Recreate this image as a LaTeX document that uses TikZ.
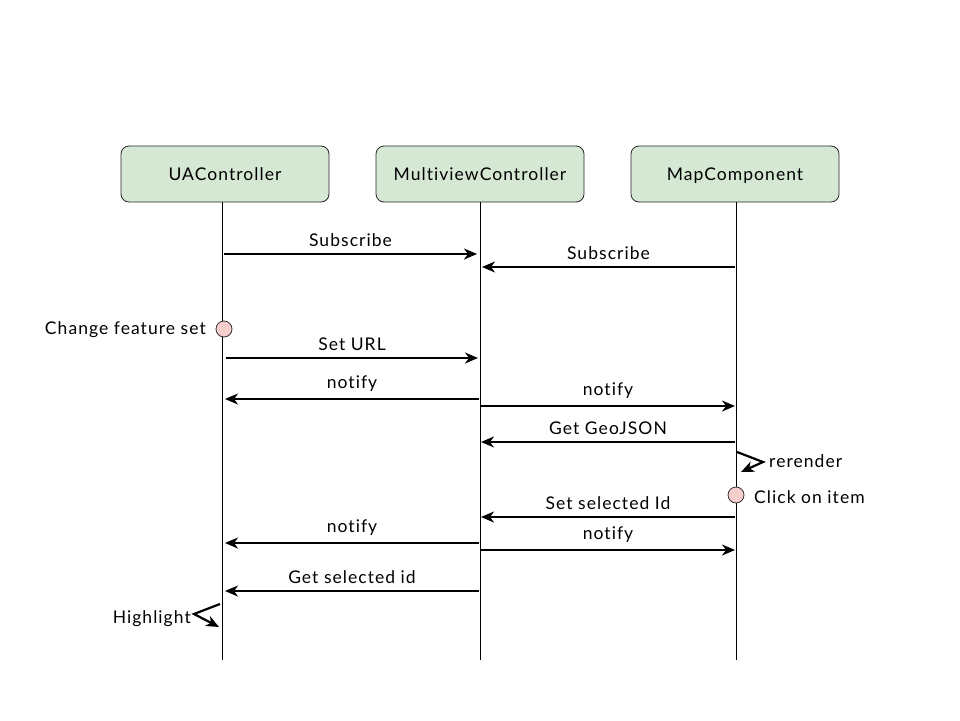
\documentclass[tikz,border=0pt]{standalone}
\usepackage{fontspec}
\setmainfont{Lato}[LetterSpace=6,Ligatures=NoCommon]
\usetikzlibrary{arrows.meta}
\definecolor{boxfill}{HTML}{D5E8D4}
\definecolor{dotfill}{HTML}{F8CECC}
\begin{document}
\begin{tikzpicture}[x=1pt,y=-1pt,
  actor/.style={draw=black!85,line width=0.8pt,fill=boxfill,rounded corners=8pt,minimum width=208pt,minimum height=56pt,text height=14pt,text depth=2pt,font=\fontsize{17.5}{20}\selectfont},
  life/.style={draw=black,line width=0.9pt},
  msg/.style={draw=black,line width=2.5pt,-{Stealth[length=13pt,width=11pt,inset=4pt]}},
  lbl/.style={font=\fontsize{17.5}{20}\selectfont,inner sep=0pt},
  evt/.style={circle,draw=black!80,line width=0.8pt,fill=dotfill,minimum size=16pt,inner sep=0pt}]
\useasboundingbox (0,0) rectangle (960,720);
% actors
\node[actor] (ua) at (225,174) {UAController};
\node[actor] (mv) at (480,174) {MultiviewController};
\node[actor] (mc) at (735,174) {MapComponent};
% lifeline ends
\coordinate (uaend) at (222,660);
\coordinate (mvend) at (480,660);
\coordinate (mcend) at (736,660);
\draw[life] (ua.south -| uaend) -- (uaend);
\draw[life] (mv.south -| mvend) -- (mvend);
\draw[life] (mc.south -| mcend) -- (mcend);
% points
\coordinate (a1) at (224,254); \coordinate (b1) at (477,254);
\coordinate (a2) at (735,267); \coordinate (b2) at (482,267);
\coordinate (a4) at (226,358); \coordinate (b4) at (478,358);
\coordinate (a5) at (479,399); \coordinate (b5) at (225,399);
\coordinate (a6) at (481,406); \coordinate (b6) at (735,406);
\coordinate (a7) at (735,442); \coordinate (b7) at (481,442);
\coordinate (a10) at (735,517); \coordinate (b10) at (481,517);
\coordinate (a11) at (479,543); \coordinate (b11) at (225,543);
\coordinate (a12) at (481,550); \coordinate (b12) at (735,550);
\coordinate (a13) at (479,591); \coordinate (b13) at (225,591);
% messages
\draw[msg] (a1) -- (b1) node[lbl,midway,above=6pt] (l1) {Subscribe};
\draw[msg] (a2) -- (b2) node[lbl,midway,above=6pt] (l2) {Subscribe};
\draw[msg] (a4) -- (b4) node[lbl,midway,above=6pt] (l4) {Set URL};
\draw[msg] (a5) -- (b5) node[lbl,midway,above=6pt] (l5) {notify};
\draw[msg] (a6) -- (b6) node[lbl,midway,above=6pt] (l6) {notify};
\draw[msg] (a7) -- (b7) node[lbl,midway,above=6pt] (l7) {Get GeoJSON};
\draw[msg] (a10) -- (b10) node[lbl,midway,above=6pt] (l10) {Set selected Id};
\draw[msg] (a11) -- (b11) node[lbl,midway,above=6pt] (l11) {notify};
\draw[msg] (a12) -- (b12) node[lbl,midway,above=6pt] (l12) {notify};
\draw[msg] (a13) -- (b13) node[lbl,midway,above=6pt] (l13) {Get selected id};
% events
\node[evt] (e1) at (224,329) {};
\node[lbl,anchor=east] (e1l) at (206,330) {Change feature set};
\node[evt] (e2) at (736,495) {};
\node[lbl,anchor=west] (e2l) at (754,497) {Click on item};
% self messages
\coordinate (r1) at (737,452); \coordinate (r2) at (763,462); \coordinate (r3) at (741,472);
\draw[msg,line width=2.2pt] (r1) -- (r2) -- (r3);
\node[lbl,anchor=west] (rl) at (769,461) {rerender};
\coordinate (h1) at (220,604); \coordinate (h2) at (194,614); \coordinate (h3) at (219,627);
\draw[msg,line width=2.2pt] (h1) -- (h2) -- (h3);
\node[lbl,anchor=east] (hl) at (191,619) {Highlight};
\end{tikzpicture}
\end{document}
